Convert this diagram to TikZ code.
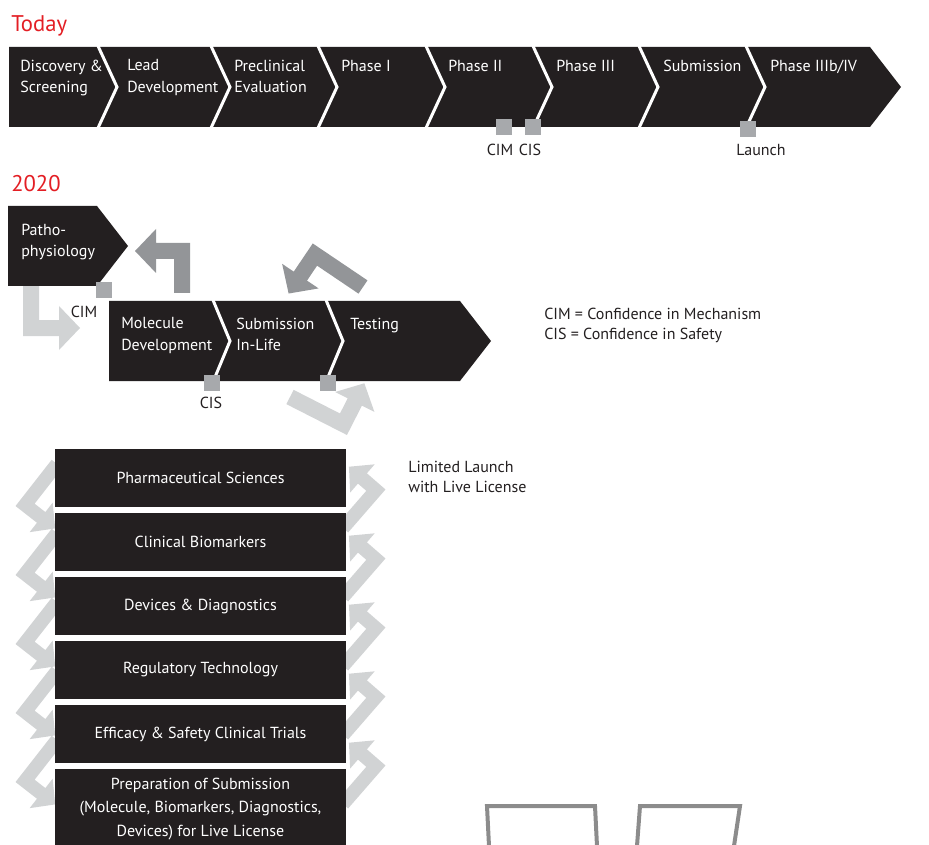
\documentclass[tikz,border=0pt]{standalone}
\usepackage{fontspec}
\setmainfont{PT Sans}
\definecolor{barblack}{RGB}{35,31,32}
\definecolor{titlered}{RGB}{227,30,36}
\definecolor{darkarrow}{RGB}{147,149,152}
\definecolor{lightarrow}{RGB}{209,211,212}
\definecolor{markgray}{RGB}{167,169,172}
\definecolor{sketchgray}{RGB}{140,140,140}
\tikzset{
  steplabel/.style={anchor=north west, inner sep=0pt, text=white, align=left, font=\fontsize{12}{16}\selectfont},
  notelabel/.style={inner sep=0pt, text=barblack, align=left, font=\fontsize{12}{15}\selectfont},
  markbox/.style={fill=markgray, minimum size=12pt, inner sep=0pt},
  stackbox/.style={fill=barblack, text=white, minimum width=218.25pt, minimum height=43.5pt, inner sep=0pt, align=center, font=\fontsize{12}{17.6}\selectfont},
  divider/.style={white, line width=2.25pt},
  yeartitle/.style={anchor=base west, inner sep=0pt, text=titlered, font=\fontsize{17}{20}\selectfont},
  pics/hook/.style n args={3}{code={
    \fill[#3] (8,0) -- (8,{-#1-8}) -- ({-#2+21},{-#1-8}) -- ({-#2+21},{-#1-22}) -- ({-#2},{-#1})
      -- ({-#2+21},{-#1+22}) -- ({-#2+21},{-#1+8}) -- (-8,{-#1+8}) -- (-8,0) -- cycle;
  }}
}
\begin{document}
\begin{tikzpicture}[x=0.75pt,y=-0.75pt]
\useasboundingbox (0,0) rectangle (929,845);

% today
\node[yeartitle] (today) at (11,32) {Today};
\fill[barblack] (9,47) -- (870,47) -- (901,87) -- (870,127) -- (9,127) -- cycle;
\foreach \x in {98,211,318,426,533,639,746}{
\draw[divider] (\x,46) -- (\x+19,87) -- (\x,128);
}
\node[steplabel] (disc) at (20,59.5) {Discovery \&\\Screening};
\node[steplabel] (lead) at (127,59.5) {Lead\\Development};
\node[steplabel] (precl) at (234,59.5) {Preclinical\\Evaluation};
\node[steplabel] (ph1) at (341,59.5) {Phase I};
\node[steplabel] (ph2) at (448,59.5) {Phase II};
\node[steplabel] (ph3) at (556,59.5) {Phase III};
\node[steplabel] (subm) at (663,59.5) {Submission};
\node[steplabel] (ph4) at (770,59.5) {Phase IIIb/IV};
\node[markbox] (cimmark) at (504,127) {};
\node[markbox] (cismark) at (533,127) {};
\node[markbox] (launchmark) at (748,129) {};
\node[notelabel, anchor=base] (cimtext) at (500,156) {CIM};
\node[notelabel, anchor=base] (cistext) at (530,156) {CIS};
\node[notelabel, anchor=base] (launchtext) at (761,156) {Launch};

% 2020
\node[yeartitle] (future) at (11,192) {2020};
\pic at (182,293) {hook={42}{47}{darkarrow}};
\pic[rotate=180] at (31,284) {hook={44}{49}{lightarrow}};
\pic[rotate=56] at (363,287) {hook={58}{47}{darkarrow}};
\pic[rotate=-117] at (290,397) {hook={60}{46}{lightarrow}};
\fill[barblack] (8,206) -- (97,206) -- (128,246) -- (97,286) -- (8,286) -- cycle;
\fill[barblack] (109,301) -- (460,301) -- (491,341) -- (460,381) -- (109,381) -- cycle;
\foreach \x in {213,326}{
\draw[divider] (\x,300) -- (\x+17,341) -- (\x,382);
}
\node[steplabel] (patho) at (21,223.5) {Patho-\\physiology};
\node[steplabel] (molec) at (121,317.5) {Molecule\\Development};
\node[steplabel] (inlife) at (236,317.5) {Submission\\In-Life};
\node[steplabel] (testing) at (350,317.5) {Testing};
\node[markbox] (pathomark) at (103.5,290.5) {};
\node[markbox] (molecmark) at (212,383) {};
\node[markbox] (testmark) at (328,383) {};
\node[notelabel, anchor=base] (cim2) at (84,317) {CIM};
\node[notelabel, anchor=base] (cis2) at (211,408) {CIS};
\node[notelabel, anchor=north west] (legend) at (544,307.5) {CIM = Confidence in Mechanism\\CIS = Confidence in Safety};
\node[notelabel, anchor=north west] (limited) at (408,460.5) {Limited Launch\\with Live License};

% stack of streams
\foreach \k in {0,...,4}{
\pic[rotate=142, scale=0.85] at (57,464+69*\k) {hook={61}{45}{lightarrow}};
\pic[rotate=-41, scale=0.85] at (343,528+69*\k) {hook={59}{42}{lightarrow}};
}
\node[stackbox] (pharma) at (200.5,478) {Pharmaceutical Sciences};
\node[stackbox] (biomark) at (200.5,542) {Clinical Biomarkers};
\node[stackbox] (devices) at (200.5,606) {Devices \& Diagnostics};
\node[stackbox] (regtech) at (200.5,670) {Regulatory Technology};
\node[stackbox] (trials) at (200.5,734) {Efficacy \& Safety Clinical Trials};
\node[stackbox, minimum height=60pt] (prep) at (200.5,809) {Preparation of Submission\\(Molecule, Biomarkers, Diagnostics,\\Devices) for Live License};

% cut-off outlines
\draw[sketchgray, line width=3pt] (489,846) -- (487,806) -- (595,806) -- (597,846);
\draw[sketchgray, line width=3pt] (637,846) -- (640,806) -- (740,806) -- (734,846);
\end{tikzpicture}
\end{document}
